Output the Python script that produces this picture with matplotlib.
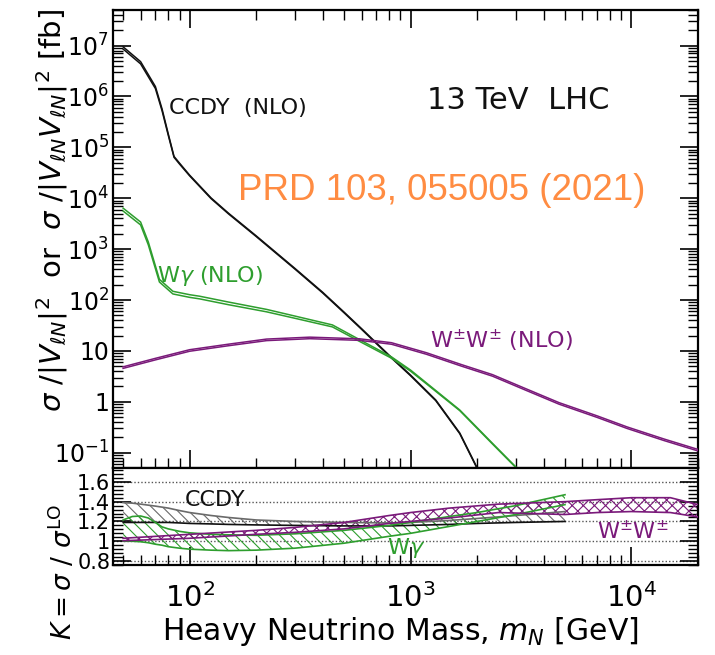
import numpy as np
import matplotlib
matplotlib.use("Agg")
import matplotlib.pyplot as plt
from matplotlib.ticker import LogLocator, FixedLocator, MultipleLocator, FuncFormatter, NullFormatter

plt.rcParams['font.family'] = ['DejaVu Sans']
plt.rcParams['mathtext.fontset'] = 'dejavusans'
plt.rcParams['hatch.linewidth'] = 0.8

# ---------------- data ----------------
# top panel: cross sections [fb]
ccdy_m = [50, 60, 70, 75, 80, 85, 90, 100, 125, 150, 200, 300, 400, 500, 600, 800, 1000, 1300, 1670, 2000, 2200]
ccdy_xs = [9.0e6, 4.6e6, 1.5e6, 5.5e5, 1.8e5, 6.5e4, 4.8e4, 2.8e4, 1.0e4, 5.0e3, 1.8e3, 4.1e2, 1.4e2, 57, 27, 8.1, 3.3, 1.07, 0.24, 0.05, 0.015]
ccdy_unc = [0.05, 0.05, 0.045, 0.04, 0.03, 0.02, 0.02, 0.015, 0.015, 0.015, 0.015, 0.015, 0.015, 0.015, 0.015, 0.015, 0.015, 0.015, 0.015, 0.015, 0.015]

wa_m = [50, 60, 65, 73, 84, 100, 111, 150, 223, 300, 443, 588, 820, 1000, 1180, 1670, 2350, 3020, 3200]
wa_xs = [6.0e3, 3.2e3, 1.3e3, 2.4e2, 1.4e2, 120, 112, 86, 62, 46, 31, 16, 7.4, 4.1, 2.3, 0.68, 0.15, 0.05, 0.035]
wa_unc = [0.065, 0.065, 0.065, 0.06, 0.06, 0.06, 0.06, 0.06, 0.055, 0.05, 0.045, 0.04, 0.03, 0.025, 0.02, 0.015, 0.015, 0.015, 0.015]

ww_m = [50, 70, 100, 150, 223, 350, 588, 820, 1180, 1700, 2350, 3300, 4700, 7000, 9550, 14000, 19600, 20500]
ww_xs = [4.7, 6.9, 10.2, 13.1, 16.5, 18.0, 16.7, 14.0, 8.9, 5.2, 3.3, 1.77, 0.93, 0.51, 0.31, 0.18, 0.115, 0.11]
ww_unc = [0.035] * 18

# bottom panel: K-factor bands
kc_m = [50, 55, 60, 70, 80, 90, 100, 125, 150, 200, 300, 500, 800, 1000, 1500, 2000, 3000, 5000]
kc_up = [1.39, 1.385, 1.375, 1.355, 1.335, 1.31, 1.29, 1.26, 1.24, 1.215, 1.20, 1.19, 1.185, 1.19, 1.21, 1.23, 1.26, 1.30]
kc_dn = [1.19, 1.19, 1.19, 1.19, 1.19, 1.185, 1.18, 1.175, 1.17, 1.165, 1.16, 1.155, 1.155, 1.16, 1.17, 1.18, 1.19, 1.20]

kw_m = [50, 55, 60, 65, 70, 75, 80, 90, 100, 125, 150, 200, 300, 500, 800, 1000, 1500, 2000, 3000, 5000]
kw_up = [1.215, 1.25, 1.255, 1.235, 1.19, 1.145, 1.125, 1.10, 1.085, 1.07, 1.065, 1.06, 1.075, 1.11, 1.16, 1.19, 1.25, 1.29, 1.36, 1.47]
kw_dn = [1.0, 1.0, 0.995, 0.985, 0.97, 0.96, 0.945, 0.93, 0.92, 0.91, 0.905, 0.91, 0.93, 0.98, 1.05, 1.08, 1.15, 1.20, 1.27, 1.37]

kww_m = [50, 100, 200, 300, 500, 800, 1000, 1500, 2500, 5000, 7000, 10000, 15000, 20000]
kww_up = [1.03, 1.07, 1.11, 1.14, 1.19, 1.26, 1.29, 1.335, 1.375, 1.40, 1.42, 1.44, 1.44, 1.37]
kww_dn = [1.005, 1.03, 1.07, 1.09, 1.125, 1.18, 1.20, 1.235, 1.29, 1.27, 1.29, 1.30, 1.29, 1.245]

ytick_top = [0.1, 1, 10, 1e2, 1e3, 1e4, 1e5, 1e6, 1e7]
ytick_bot = [0.8, 1.0, 1.2, 1.4, 1.6]
xtick_bot = [1e2, 1e3, 1e4]

BLACK = '#111111'
GREEN = '#2e9e2e'
PURPLE = '#7a1a7a'
ORANGE = '#ff8c42'
GRAY = '#6a6a6a'

W, H = 715, 655
fig = plt.figure(figsize=(W / 100, H / 100), dpi=100)
L, R = 113, 698
ax1 = fig.add_axes([L / W, 1 - 468 / H, (R - L) / W, (468 - 10) / H])
ax2 = fig.add_axes([L / W, 1 - 565 / H, (R - L) / W, (565 - 468) / H], sharex=ax1)

def band(ax, m, xs, unc, color):
    m = np.array(m, float); xs = np.array(xs, float); u = np.array(unc, float)
    ax.fill_between(m, xs * (1 - u), xs * (1 + u), facecolor='white', edgecolor='none', zorder=2)
    ax.plot(m, xs * (1 + u), color=color, lw=1.1, zorder=3)
    ax.plot(m, xs * (1 - u), color=color, lw=1.1, zorder=3)

band(ax1, ccdy_m, ccdy_xs, ccdy_unc, BLACK)
band(ax1, wa_m, wa_xs, wa_unc, GREEN)
band(ax1, ww_m, ww_xs, ww_unc, PURPLE)

ax1.set_xscale('log'); ax1.set_yscale('log')
ax1.set_xlim(45, 2.0e4)
ax1.set_ylim(0.05, 5e7)
ax1.yaxis.set_major_locator(FixedLocator(ytick_top))
ax1.yaxis.set_minor_locator(LogLocator(base=10, subs=np.arange(2, 10), numticks=20))

def yfmt(v, pos):
    e = int(round(np.log10(v)))
    if e == 0:
        return '1'
    if e == 1:
        return '10'
    if e < 0:
        return r'$10^{-%d}$' % (-e)
    return r'$10^{%d}$' % e

ax1.yaxis.set_major_formatter(FuncFormatter(yfmt))
ax1.yaxis.set_minor_formatter(NullFormatter())
ax1.tick_params(axis='both', which='both', direction='in', top=True, right=True, labelbottom=False)
ax1.tick_params(which='major', length=13, width=1.2, labelsize=17, pad=3)
ax1.tick_params(which='minor', length=7, width=1.0)

ax1.text(81, 5.8e5, 'CCDY  (NLO)', color=BLACK, fontsize=16, ha='left', va='center')
ax1.text(1190, 8.3e5, '13 TeV  LHC', color=BLACK, fontsize=22, ha='left', va='center')
ax1.text(165, 1.4e4, 'PRD 103, 055005 (2021)', color=ORANGE, fontsize=26.5, ha='left', va='center',
         family='Liberation Sans')
ax1.text(71, 300, r'W$\gamma$ (NLO)', color=GREEN, fontsize=16, ha='left', va='center')
ax1.text(1220, 16, r'W$^{\pm}$W$^{\pm}$ (NLO)', color=PURPLE, fontsize=16, ha='left', va='center')

# ---------------- bottom panel ----------------
for yv in ytick_bot:
    ax2.axhline(yv, color='#555555', lw=1.0, ls=(0, (1, 1.5)), zorder=1)

def kband(ax, m, up, dn, color, hatch, upc, dnc):
    ax.fill_between(m, dn, up, facecolor='none', edgecolor=color, hatch=hatch, lw=0, zorder=2)
    ax.plot(m, up, color=upc, lw=1.2, zorder=3)
    ax.plot(m, dn, color=dnc, lw=1.2, zorder=3)

kband(ax2, kc_m, kc_up, kc_dn, GRAY, '\\\\\\', GRAY, BLACK)
kband(ax2, kw_m, kw_up, kw_dn, GREEN, '\\\\\\', GREEN, GREEN)
kband(ax2, kww_m, kww_up, kww_dn, PURPLE, 'xxx', PURPLE, PURPLE)

ax2.set_ylim(0.76, 1.74)
ax2.yaxis.set_major_locator(FixedLocator(ytick_bot))
ax2.yaxis.set_minor_locator(MultipleLocator(0.04))
ax2.yaxis.set_major_formatter(FuncFormatter(lambda v, p: '1' if abs(v - 1) < 1e-9 else ('%.1f' % v)))
ax2.xaxis.set_major_locator(FixedLocator(xtick_bot))
ax2.xaxis.set_minor_locator(LogLocator(base=10, subs=np.arange(2, 10), numticks=20))
ax2.xaxis.set_major_formatter(FuncFormatter(lambda v, p: r'$10^{%d}$' % int(round(np.log10(v)))))
ax2.xaxis.set_minor_formatter(NullFormatter())
ax2.tick_params(axis='both', which='both', direction='in', top=False, right=True)
ax2.tick_params(which='major', length=13, width=1.2)
ax2.tick_params(which='minor', length=7, width=1.0)
ax2.tick_params(axis='y', which='major', labelsize=15, pad=2)
ax2.tick_params(axis='x', which='major', labelsize=21, pad=13)

ax2.text(95, 1.42, 'CCDY', color=BLACK, fontsize=16, ha='left', va='center')
ax2.text(786, 0.93, r'W$\gamma$', color=GREEN, fontsize=16, ha='left', va='center')
ax2.text(6960, 1.10, r'W$^{\pm}$W$^{\pm}$', color=PURPLE, fontsize=16, ha='left', va='center')

for ax in (ax1, ax2):
    for s in ax.spines.values():
        s.set_linewidth(1.6)

fig.text(400 / W, 1 - 632 / H, r'Heavy Neutrino Mass, $m_N$ [GeV]', fontsize=21.5, ha='center', va='center')
fig.text(52 / W, 1 - 210 / H, r'$\sigma\ /|V_{\ell N}|^2$  or  $\sigma\ /|V_{\ell N}V_{\ell N}|^2$ [fb]',
         fontsize=21, rotation=90, ha='center', va='center')
fig.text(63 / W, 1 - 572 / H, r'$K = \sigma\ /\ \sigma^{\rm LO}$', fontsize=19, rotation=90,
         ha='center', va='center')

fig.savefig('out.png', dpi=100)
